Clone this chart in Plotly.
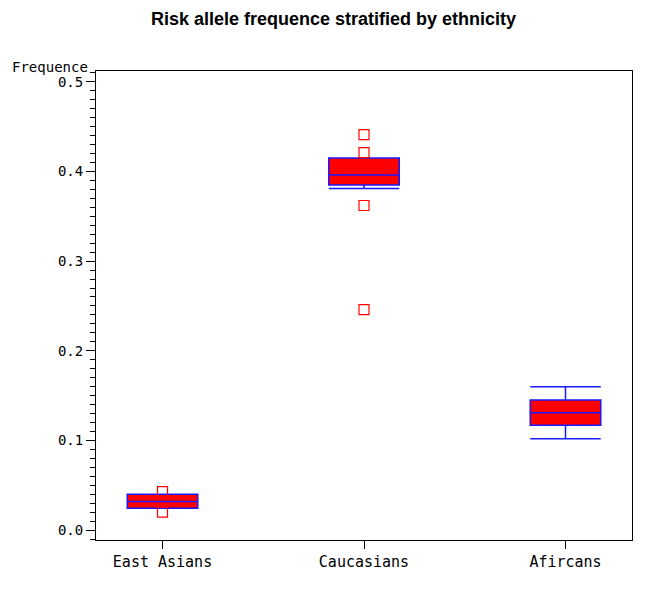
import plotly.graph_objects as go

groups = ["East Asians", "Caucasians", "Afircans"]
q1 = [0.0245, 0.385, 0.117]
median = [0.032, 0.396, 0.131]
q3 = [0.040, 0.415, 0.145]
lower = [0.0245, 0.381, 0.102]
upper = [0.040, 0.415, 0.160]

outlier_groups = ["East Asians", "East Asians", "Caucasians", "Caucasians", "Caucasians", "Caucasians"]
outlier_vals = [0.043, 0.020, 0.441, 0.421, 0.362, 0.246]

y_ticks = [0.0, 0.1, 0.2, 0.3, 0.4, 0.5]

BLUE = "#1a1aff"
RED = "#ff0000"
MONO = "DejaVu Sans Mono"

fig = go.Figure()
fig.add_trace(go.Box(
    x=groups, q1=q1, median=median, q3=q3,
    lowerfence=lower, upperfence=upper,
    boxpoints=False, width=0.35, whiskerwidth=1,
    fillcolor=RED, line={"color": BLUE, "width": 1.5},
    showlegend=False,
))
fig.add_trace(go.Scatter(
    x=outlier_groups, y=outlier_vals, mode="markers",
    marker={"symbol": "square-open", "size": 10, "color": RED, "line": {"width": 1.2}},
    showlegend=False,
))

fig.update_layout(
    width=655, height=601,
    margin={"l": 88, "r": 31, "t": 63, "b": 69},
    paper_bgcolor="white", plot_bgcolor="white",
    title={"text": "<b>Risk allele frequence stratified by ethnicity</b>",
           "x": 0.497, "xanchor": "center", "xref": "container",
           "y": 0.993, "yanchor": "top", "yref": "container",
           "font": {"family": "Liberation Sans", "size": 18, "color": "black"}},
    annotations=[{
        "text": "Frequence", "xref": "paper", "yref": "paper",
        "x": -0.160, "y": 0.988, "xanchor": "left", "yanchor": "bottom",
        "showarrow": False, "font": {"family": MONO, "size": 14, "color": "black"},
    }],
)
fig.update_xaxes(
    type="category", range=[-0.33, 2.33],
    showline=True, linecolor="black", linewidth=1, mirror=True,
    ticks="outside", ticklen=8, tickcolor="black", showgrid=False,
    tickfont={"family": MONO, "size": 15, "color": "black"},
)
fig.update_yaxes(
    range=[-0.011, 0.512],
    tickvals=y_ticks, ticktext=[f"{v:.1f}" for v in y_ticks],
    showline=True, linecolor="black", linewidth=1, mirror=True,
    ticks="outside", ticklen=9, tickcolor="black", showgrid=False, zeroline=False,
    minor={"dtick": 0.01, "ticks": "outside", "ticklen": 5, "tickcolor": "black", "showgrid": False},
    tickfont={"family": MONO, "size": 14, "color": "black"},
)

fig.write_html("out.html")
